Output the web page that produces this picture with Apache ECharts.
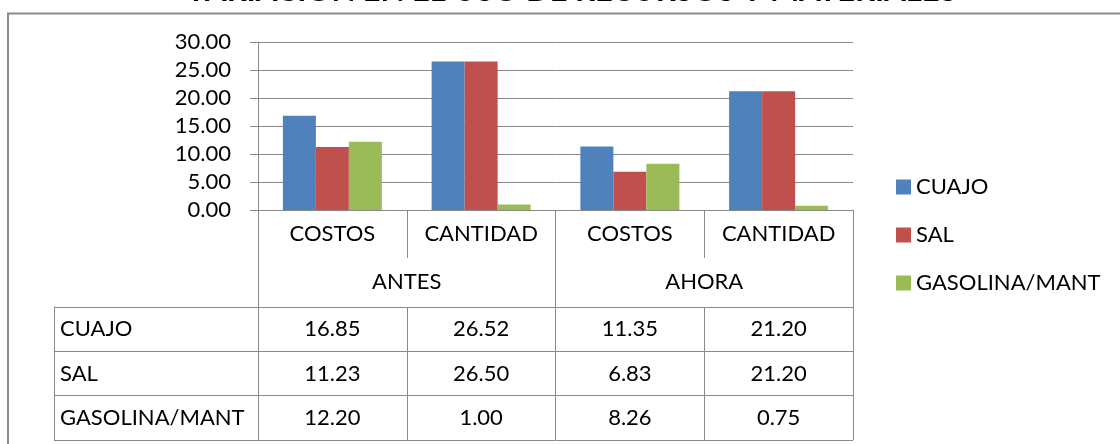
<!DOCTYPE html>
<html><head><meta charset="utf-8">
<script src="https://cdn.jsdelivr.net/npm/echarts@6/dist/echarts.min.js"></script>
<style>html,body{margin:0;padding:0;background:#fff}#c{width:1120px;height:444px}</style>
</head><body><div id="c"></div>
<script>
const chartTitle = 'VARIACIÓN EN EL USO DE RECURSOS Y MATERIALES';
const subCategories = ['COSTOS', 'CANTIDAD', 'COSTOS', 'CANTIDAD'];
const groups = ['ANTES', 'AHORA'];
const seriesNames = ['CUAJO', 'SAL', 'GASOLINA/MANT'];
const cuajo = [16.85, 26.52, 11.35, 21.20];
const sal = [11.23, 26.50, 6.83, 21.20];
const gasolina = [12.20, 1.00, 8.26, 0.75];
const yTicks = [0, 5, 10, 15, 20, 25, 30];

const colors = ['#4F81BD', '#C0504D', '#9BBB59'];
const FONT = 'Lato';
const GRAY = '#898989';
const values = [cuajo, sal, gasolina];

const tableData = [];
values.forEach((row, r) => row.forEach((v, c) => tableData.push([c, r, v])));

const chart = echarts.init(document.getElementById('c'), null, {renderer: 'canvas'});
const txt = {fontFamily: FONT, fontSize: 22, color: '#000'};

chart.setOption({
  animation: false,
  textStyle: {fontFamily: FONT},
  color: colors,
  title: {
    text: chartTitle, left: 571, textAlign: 'center', top: -25, padding: 0,
    textStyle: {fontFamily: FONT, fontSize: 31, fontWeight: 'bold', color: '#000'}
  },
  graphic: [{
    type: 'rect', silent: true, z: -10,
    shape: {x: 8, y: 13.5, width: 1200, height: 500},
    style: {fill: 'none', stroke: GRAY, lineWidth: 2}
  }],
  legend: {
    data: seriesNames, orient: 'vertical', left: 896, top: 176, padding: 0,
    itemWidth: 15, itemHeight: 15, itemGap: 26, icon: 'rect',
    textStyle: txt
  },
  grid: [
    {left: 258, top: 42, width: 595, height: 168, containLabel: false},
    {left: 258, top: 307, width: 595, height: 133, containLabel: false}
  ],
  xAxis: [
    {gridIndex: 0, type: 'category', data: subCategories,
     axisLine: {lineStyle: {color: GRAY, width: 1}},
     axisTick: {show: true, interval: 0, length: 48, lineStyle: {color: GRAY}},
     axisLabel: Object.assign({interval: 0, margin: 13, lineHeight: 22}, txt),
     splitLine: {show: false}},
    {gridIndex: 0, type: 'category', data: groups, position: 'bottom', offset: 48,
     axisLine: {show: false},
     axisTick: {show: true, interval: 0, length: 49, lineStyle: {color: GRAY}},
     axisLabel: Object.assign({interval: 0, margin: 13, lineHeight: 22}, txt),
     splitLine: {show: false}},
    {gridIndex: 1, type: 'category', data: subCategories, position: 'top',
     axisLine: {show: false}, axisTick: {show: false}, axisLabel: {show: false},
     splitLine: {show: true, interval: 0, lineStyle: {color: GRAY, width: 1}}}
  ],
  yAxis: [
    {gridIndex: 0, type: 'value', position: 'left', min: yTicks[0], max: yTicks[yTicks.length - 1],
     interval: yTicks[1] - yTicks[0],
     axisLine: {show: true, lineStyle: {color: GRAY}},
     axisTick: {show: true, length: 8, lineStyle: {color: GRAY}},
     axisLabel: Object.assign({margin: 27, formatter: v => v.toFixed(2)}, txt),
     splitLine: {show: true, lineStyle: {color: GRAY, width: 1}}},
    {gridIndex: 1, type: 'category', position: 'left', data: seriesNames, inverse: true,
     axisLine: {show: false},
     axisTick: {show: true, interval: 0, length: 204, lineStyle: {color: GRAY}},
     axisLabel: Object.assign({interval: 0, margin: 198, align: 'left'}, txt),
     splitLine: {show: true, interval: 0, lineStyle: {color: GRAY, width: 1}}},
    {gridIndex: 1, type: 'category', position: 'left', data: seriesNames, inverse: true, offset: 204,
     axisLine: {show: true, lineStyle: {color: GRAY}},
     axisTick: {show: false}, axisLabel: {show: false}, splitLine: {show: false}}
  ],
  series: [
    ...seriesNames.map((n, i) => ({
      name: n, type: 'bar', xAxisIndex: 0, yAxisIndex: 0,
      data: values[i], barWidth: 33, barGap: '0%'
    })),
    {name: 'tabla', type: 'scatter', xAxisIndex: 2, yAxisIndex: 1, silent: true,
     symbolSize: 1, itemStyle: {color: 'rgba(0,0,0,0)'},
     data: tableData,
     label: Object.assign({show: true, position: 'inside', textBorderWidth: 0, opacity: 1,
       formatter: p => p.value[2].toFixed(2)}, txt)}
  ]
});
</script></body></html>
